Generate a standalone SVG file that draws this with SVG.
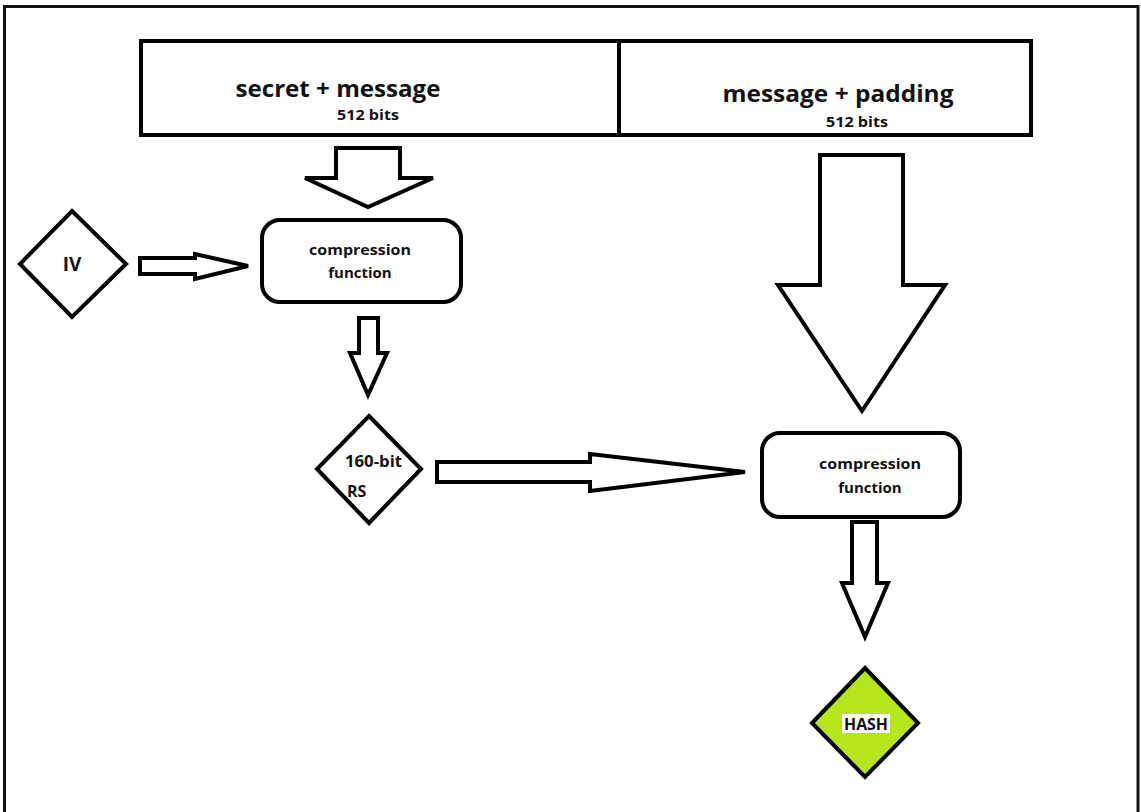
<svg xmlns="http://www.w3.org/2000/svg" width="1141" height="812" viewBox="0 0 1141 812">
<style>
.s{fill:#fff;stroke:#000;stroke-width:4;stroke-linejoin:miter}
.t{font-family:"Open Sans","Liberation Sans",sans-serif;font-weight:bold;fill:#111}
.big{font-size:23px}
.sm{font-size:14px}
.md{font-size:15px}
</style>
<rect x="0" y="0" width="1141" height="812" fill="#fff"/>
<path d="M4.5,815 V6.5 H1138 V815" fill="none" stroke="#111" stroke-width="3"/>
<g id="header">
<rect class="s" x="141" y="41" width="890" height="94"/>
<line x1="619" y1="41" x2="619" y2="135" stroke="#000" stroke-width="4"/>
</g>
<g id="secret-message">
<text class="t big" x="338" y="97" text-anchor="middle" textLength="205" lengthAdjust="spacingAndGlyphs">secret + message</text>
<text class="t sm" x="368" y="120" text-anchor="middle" textLength="62" lengthAdjust="spacingAndGlyphs">512 bits</text>
</g>
<g id="message-padding">
<text class="t big" x="838" y="102" text-anchor="middle" textLength="231" lengthAdjust="spacingAndGlyphs">message + padding</text>
<text class="t sm" x="857" y="127" text-anchor="middle" textLength="62" lengthAdjust="spacingAndGlyphs">512 bits</text>
</g>
<g id="iv">
<polygon class="s" points="72,211 126,264 72,317 20,264"/>
<text class="t" font-size="19" x="72" y="271" text-anchor="middle">IV</text>
</g>
<g id="compression1">
<rect class="s" x="262" y="220" width="199" height="82" rx="18"/>
<text class="t md" x="360" y="255" text-anchor="middle" textLength="102" lengthAdjust="spacingAndGlyphs">compression</text>
<text class="t md" x="360" y="278" text-anchor="middle">function</text>
</g>
<g id="rs">
<polygon class="s" points="369,416 421,469 369,523 317,469"/>
<text class="t" font-size="16" x="345" y="467" textLength="57" lengthAdjust="spacingAndGlyphs">160-bit</text>
<text class="t" font-size="16" x="347" y="497">RS</text>
</g>
<g id="compression2">
<rect class="s" x="762" y="433" width="198" height="84" rx="18"/>
<text class="t md" x="870" y="469" text-anchor="middle" textLength="102" lengthAdjust="spacingAndGlyphs">compression</text>
<text class="t md" x="870" y="493" text-anchor="middle">function</text>
</g>
<g id="hash">
<polygon points="865,668 918,723 865,777 812,723" fill="#b5e61d" stroke="#000" stroke-width="4"/>
<rect x="842" y="714" width="48" height="19" fill="#fff"/>
<text class="t" font-size="16" x="866" y="730" text-anchor="middle" textLength="44" lengthAdjust="spacingAndGlyphs">HASH</text>
</g>
<g id="connectors">
<polygon class="s" points="336,148 400,148 400,178 433,178 368,207 305,178 336,178"/>
<polygon class="s" points="140,258 195,258 195,254 248,266 195,279 195,274 140,274"/>
<polygon class="s" points="359,318 378,318 378,353 387,353 368,395 350,353 359,353"/>
<polygon class="s" points="437,462 590,462 590,454 745,472 590,491 590,482 437,482"/>
<polygon class="s" points="820,155 903,155 903,285 945,285 862,411 778,285 820,285"/>
<polygon class="s" points="852,522 877,522 877,583 888,583 865,637 842,583 852,583"/>
</g>
</svg>
